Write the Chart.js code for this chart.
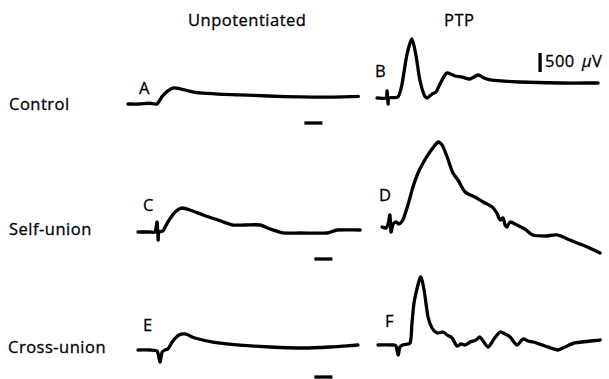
<!DOCTYPE html>
<html>
<head>
<meta charset="utf-8">
<script src="https://cdn.jsdelivr.net/npm/chart.js@4.4.1/dist/chart.umd.min.js"></script>
<style>
  html, body { margin: 0; padding: 0; background: #fff; }
  #fig { position: relative; width: 609px; height: 379px; overflow: hidden; font-family: "Open Sans", Lato, sans-serif; color: #000; }
  .panel { position: absolute; }
  .txt { position: absolute; font-size: 16.5px; line-height: 1; white-space: nowrap; letter-spacing: 0.5px; -webkit-text-stroke: 0.3px #000; }
  .letter { position: absolute; font-size: 16.5px; line-height: 1; -webkit-text-stroke: 0.3px #000; }
</style>
</head>
<body>
<div id="fig">
  <div class="txt" style="left:188px;top:12px;">Unpotentiated</div>
  <div class="txt" style="left:444px;top:12px;">PTP</div>
  <div class="txt" style="left:9px;top:96px;">Control</div>
  <div class="txt" style="left:9px;top:221px;">Self-union</div>
  <div class="txt" style="left:8px;top:339px;">Cross-union</div>
  <div class="txt" style="left:545px;top:53px;">500</div>
  <div class="txt" style="left:582px;top:53px;"><i>&micro;</i>V</div>
  <div class="letter" style="left:139px;top:80px;">A</div>
  <div class="letter" style="left:375px;top:63px;">B</div>
  <div class="letter" style="left:143px;top:197px;">C</div>
  <div class="letter" style="left:379px;top:187px;">D</div>
  <div class="letter" style="left:143px;top:317px;">E</div>
  <div class="letter" style="left:385px;top:313px;">F</div>
</div>
<script>
// ===== Trace data (time in ms from trace start, potential in µV from baseline) =====
const timeA = [0, 3, 6, 8, 9.5, 11, 12.5, 14.5, 17, 20, 25, 31, 39, 48, 56, 64];
const uvA   = [0, 0, 20, 0, 200, 340, 420, 400, 340, 290, 260, 240, 210, 185, 180, 200];

const timeB = [0, 2.5, 2.8, 3.1, 3.3, 5.8, 6.9, 8.3, 9.7, 10.8, 11.9, 13.1, 13.9, 15.3, 16.4, 17.5, 19.4, 21.7, 23.6, 25.8, 28.1, 29.7, 31.9, 39.7, 50.8, 61.4];
const uvB   = [0, 0, 184, -158, 0, 26, 342, 1131, 1552, 1131, 473, 79, 0, 105, 158, 368, 658, 579, 552, 500, 605, 526, 473, 421, 395, 395];

const timeC = [0, 3.3, 4.7, 5.3, 5.6, 5.8, 6.9, 8.3, 10.3, 12.2, 14.4, 18.1, 22.2, 26.4, 29.7, 33.9, 36.7, 40.3, 45, 52.5, 55.3, 61.7];
const uvC   = [0, 0, 0, 263, -210, 0, 26, 263, 526, 631, 579, 447, 316, 184, 184, 184, 79, -26, -26, -26, 53, 53];

const timeD = [0, 1.1, 1.7, 2.2, 2.5, 3.1, 3.9, 4.7, 5.8, 7.2, 8.6, 10, 11.4, 13.3, 15.6, 16.7, 18.1, 19.7, 21.1, 23.1, 25.8, 28.1, 30.6, 31.9, 32.8, 33.6, 34.2, 34.7, 35.6, 37.5, 39.7, 41.9, 45.3, 48.6, 52.2, 56.4, 60.6];
const uvD   = [0, -26, 79, 316, -131, 79, 131, 79, 184, 579, 1052, 1420, 1683, 1973, 2236, 2157, 1841, 1420, 1236, 921, 789, 658, 526, 368, 184, 237, 53, 0, 131, 53, -53, -210, -237, -210, -342, -500, -684];

const timeE = [0, 3.3, 5.3, 6.1, 6.7, 7.5, 8.3, 9.7, 11.4, 13.1, 15.8, 20.8, 28.3, 36.7, 45.8, 53.3, 61.1];
const uvE   = [0, 0, -26, -316, -53, 0, 26, 237, 395, 421, 316, 210, 131, 79, 53, 79, 131];

const timeF = [0, 4.2, 5, 5.6, 6.1, 6.9, 8.9, 9.4, 10, 11.1, 11.9, 12.8, 13.9, 15, 16.4, 18.1, 19.2, 20.6, 21.9, 23.1, 24.2, 25.6, 27.2, 28.3, 29.4, 30.6, 32.2, 33.9, 35.3, 36.7, 38.6, 40.3, 41.7, 43.1, 46.4, 50, 51.9, 54.7, 61.7];
const uvF   = [0, 0, -26, -263, -53, 0, 53, 526, 1105, 1578, 1788, 1447, 737, 447, 316, 342, 263, 184, -26, 26, 0, 79, 131, 210, 79, -53, 158, 342, 289, 210, 0, 158, 105, 79, -26, -131, -53, 53, 131];

// calibration marks
const timeBarMs = [49, 54];        // 5 ms time bar under left traces
const timeBarUv = [-500, -710, -710];
const voltBarUv = [684, 1184];     // 500 µV bar in panel B
const voltBarMs = 45.3;

// ===== Layout (pixels) =====
const PX_PER_MS = 3.6;
const UV_PER_PX = 26.3;
const panels = [
  { t: timeA, v: uvA, box: [120, 30, 250, 100], start: 128, base: 104, tbar: timeBarUv[0] },
  { t: timeB, v: uvB, box: [370, 30, 239, 100], start: 377, base: 98, vbar: true },
  { t: timeC, v: uvC, box: [120, 130, 250, 132], start: 138, base: 232, tbar: timeBarUv[1] },
  { t: timeD, v: uvD, box: [370, 130, 239, 132], start: 382, base: 227 },
  { t: timeE, v: uvE, box: [120, 262, 250, 117], start: 138, base: 350, tbar: timeBarUv[2] },
  { t: timeF, v: uvF, box: [370, 262, 239, 117], start: 378, base: 345 },
];

const fig = document.getElementById('fig');
panels.forEach(p => {
  const [L, T, W, H] = p.box;
  const canvas = document.createElement('canvas');
  canvas.className = 'panel';
  canvas.style.left = L + 'px';
  canvas.style.top = T + 'px';
  canvas.width = W; canvas.height = H;
  canvas.style.width = W + 'px'; canvas.style.height = H + 'px';
  fig.appendChild(canvas);

  const lineStyle = { borderColor: '#000', borderWidth: 3.3, pointRadius: 0, fill: false, clip: false, borderCapStyle: 'round', borderJoinStyle: 'round' };
  const datasets = [
    { ...lineStyle, tension: 0.25, data: p.t.map((t, i) => ({ x: t, y: p.v[i] })) },
  ];
  if (p.tbar !== undefined) {
    datasets.push({ ...lineStyle, borderCapStyle: 'butt', tension: 0, data: timeBarMs.map(t => ({ x: t, y: p.tbar })) });
  }
  if (p.vbar) {
    datasets.push({ ...lineStyle, borderCapStyle: 'butt', tension: 0, data: voltBarUv.map(v => ({ x: voltBarMs, y: v })) });
  }

  new Chart(canvas, {
    type: 'line',
    data: { datasets },
    options: {
      responsive: false, animation: false, devicePixelRatio: 1,
      layout: { padding: 0 },
      plugins: { legend: { display: false }, tooltip: { enabled: false } },
      scales: {
        x: { type: 'linear', display: false, min: (L - p.start) / PX_PER_MS, max: (L + W - p.start) / PX_PER_MS },
        y: { type: 'linear', display: false, min: (p.base - (T + H)) * UV_PER_PX, max: (p.base - T) * UV_PER_PX },
      },
    },
  });
});
</script>
</body>
</html>
